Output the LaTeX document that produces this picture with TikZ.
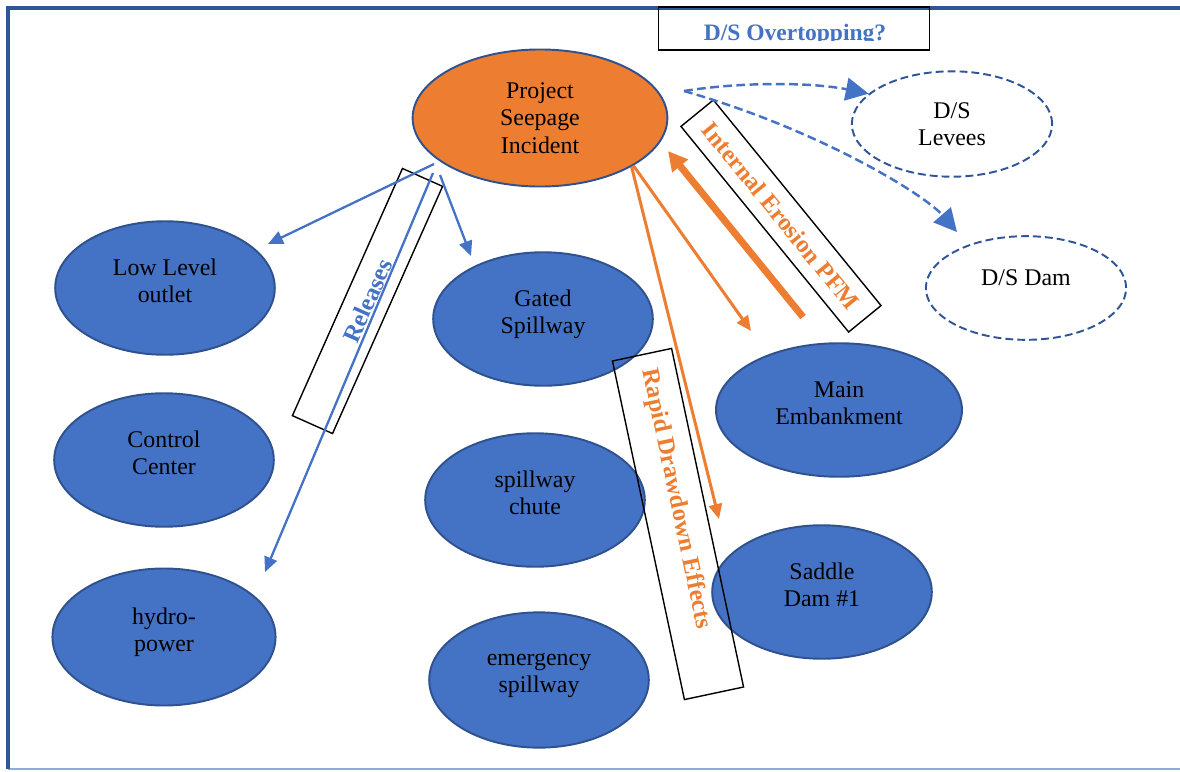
\documentclass[tikz,border=0pt]{standalone}
\usepackage{fontspec}
\setmainfont{Liberation Serif}
\usetikzlibrary{arrows.meta,shapes.geometric}

\definecolor{ellblue}{HTML}{4472C4}
\definecolor{ellline}{HTML}{2F528F}
\definecolor{psiorange}{HTML}{ED7D31}
\definecolor{framblue}{HTML}{2F5597}
\definecolor{framlight}{HTML}{8FAADC}

\tikzset{
  ell/.style={ellipse, draw=ellline, line width=1.1pt, inner sep=0pt, align=center,
    font=\fontsize{13.6}{15.5}\selectfont},
  blue ell/.style={ell, fill=ellblue, text depth=8pt, minimum width=125pt, minimum height=76pt},
  dash ell/.style={ell, draw=framblue, fill=white, dash pattern=on 4.5pt off 2.3pt,
    minimum width=114pt, minimum height=60pt},
  label box/.style={draw=black, line width=0.8pt, inner sep=0pt},
  label text/.style={font=\fontsize{14}{16}\selectfont\bfseries},
  blue arrow/.style={ellblue, line width=1.3pt, -{Triangle[length=8.5pt,width=7.5pt]}},
  orange arrow/.style={psiorange, line width=1.7pt, -{Triangle[length=8.5pt,width=7.5pt]}},
  dash arrow/.style={ellblue, line width=1.4pt, dash pattern=on 5pt off 2.5pt,
    -{Triangle[length=13pt,width=13pt]}},
}

\begin{document}
\begin{tikzpicture}[x=0.02cm, y=-0.02cm]
  \useasboundingbox (0,0) rectangle (1180,771);
  % frame
  \draw[framlight, line width=1.2pt] (8,769) -- (1180,769);
  \draw[framblue, line width=2pt] (8,769) -- (8,8) -- (1180,8);

  % ellipses
  \node[ell, fill=psiorange, minimum width=145pt, minimum height=78pt] (psi) at (540,118) {Project\\Seepage\\Incident};
  \node[blue ell] (low) at (165,288) {Low Level\\outlet};
  \node[blue ell] (ctrl) at (164,460) {Control\\Center};
  \node[blue ell, minimum width=127pt, minimum height=78pt] (hydro) at (164,637) {hydro-\\power};
  \node[blue ell] (gated) at (543,319) {Gated\\Spillway};
  \node[blue ell] (chute) at (535,500) {spillway\\chute};
  \node[blue ell, minimum height=77pt] (emerg) at (539,680) {emergency\\spillway};
  \node[blue ell, minimum width=140pt] (main) at (839,410) {Main\\Embankment};
  \node[blue ell] (saddle) at (822,592) {Saddle\\Dam \#1};
  \node[dash ell] (levees) at (952,124) {D/S\\Levees};
  \node[dash ell, text depth=12pt, minimum height=59pt] (dsdam) at (1026,288) {D/S Dam};

  % label boxes
  \node[label box, minimum width=154pt, minimum height=24.4pt] (ovbox) at (794,28.5) {};
  \begin{scope}
    \clip (658,7) rectangle (930,40.5);
    \node[label text, font=\fontsize{13.4}{15}\selectfont\bfseries, text=ellblue, anchor=base] (ovtext) at (795,40) {D/S Overtopping?};
  \end{scope}
  \node[label box, label text, text=ellblue, rotate=66, minimum width=154pt, minimum height=25pt] (relbox) at (367.5,301) {Releases};
  \node[label box, label text, text=psiorange, rotate=-50.8, minimum width=151pt, minimum height=23.8pt] (iebox) at (781,216) {Internal Erosion PFM};
  \node[label box, rotate=-78, minimum width=197pt, minimum height=34.4pt] (rdbox) at (678,524) {};
  \node[label text, text=psiorange, rotate=-78] (rdtext) at (676,499) {Rapid Drawdown Effects};

  % arrow ends
  \coordinate (a1s) at (434,164);
  \coordinate (a1e) at (268,244);
  \coordinate (a2s) at (433,173);
  \coordinate (a2e) at (265,572);
  \coordinate (a3s) at (440,175);
  \coordinate (a3e) at (471,256);
  \coordinate (b1e) at (751,331);
  \coordinate (b2e) at (719,519);
  \coordinate (b3s) at (803,317);
  \coordinate (b3e) at (668,151);
  \coordinate (c0) at (684,91);
  \coordinate (c2e) at (957,232);

  % releases
  \draw[blue arrow] (a1s) -- (a1e);
  \draw[blue arrow] (a2s) -- (a2e);
  \draw[blue arrow] (a3s) -- (a3e);
  % embankment and saddle dam
  \draw[orange arrow] (psi.-27) -- (b1e);
  \draw[orange arrow] (psi.-28) -- (b2e);
  \draw[orange arrow, line width=4pt, -{Triangle[length=11pt,width=11pt]}] (b3s) -- (b3e);
  % downstream
  \draw[dash arrow] (c0) .. controls (740,82) and (810,82) .. (levees.160);
  \draw[dash arrow] (c0) .. controls (820,130) and (925,195) .. (c2e);
\end{tikzpicture}
\end{document}
